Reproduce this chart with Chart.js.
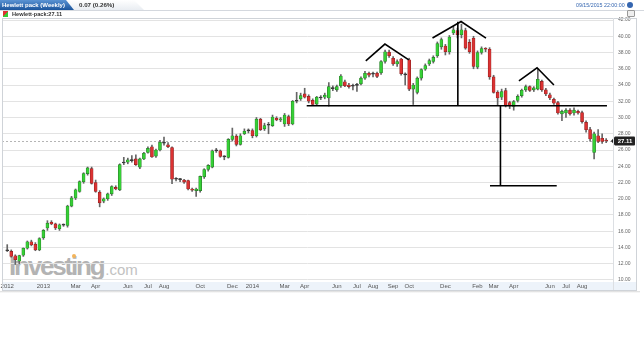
<!DOCTYPE html>
<html><head><meta charset="utf-8">
<script src="https://cdn.jsdelivr.net/npm/chart.js@4.4.1/dist/chart.umd.min.js"></script>
<style>
html,body{margin:0;padding:0;background:#fff;width:644px;height:362px;overflow:hidden;font-family:"Liberation Sans",Arial,sans-serif;}
#c{position:absolute;left:0;top:0;z-index:1;}
.abs{position:absolute;white-space:nowrap;}
#tab{left:0;top:0;width:74px;height:10px;background:linear-gradient(#5a93d3,#1c559c);clip-path:polygon(0 0,66px 0,74px 10px,0 10px);z-index:3;}
#tabtxt{left:2px;top:0;font-size:6px;line-height:10px;font-weight:bold;color:#fff;z-index:4;}
#tab2{left:60px;top:0;width:84px;height:10px;background:linear-gradient(#ffffff,#e9edf2);clip-path:polygon(0 0,74px 0,84px 10px,0 10px);z-index:2;}
#chg{left:79px;top:0;font-size:6.2px;line-height:10px;font-weight:bold;color:#333;z-index:4;}
#topline{left:0;top:10px;width:644px;height:0;border-top:1px solid #d4d8de;z-index:2;}
#date{left:576px;top:1px;font-size:5.3px;line-height:8px;color:#3566b0;z-index:4;}
#dot{left:627px;top:2px;width:6px;height:6px;border-radius:50%;background:#3566b0;z-index:4;}
#mini{left:627px;top:10px;width:6px;height:5px;border:1px solid #999;border-radius:1px;background:#eee;z-index:4;}
#icon{left:3px;top:11px;width:5px;height:6px;background:linear-gradient(135deg,#d33 50%,#3c3 50%);z-index:4;}
#name{left:12px;top:10px;font-size:5.6px;line-height:8px;font-weight:bold;color:#333;z-index:4;}
#frame{left:2px;top:18px;width:633px;height:271px;border:1px solid #cfd3d8;z-index:2;pointer-events:none;}
#sep{left:613px;top:18px;width:0;height:272px;border-left:1px solid #dcdfe3;z-index:2;}
#band{left:2px;top:282px;width:634px;height:8px;background:#edf3fa;z-index:0;}
#shadow{left:0;top:291px;width:640px;height:2px;background:linear-gradient(#d9d9d9,#fff);z-index:0;}
#wm{left:9px;top:253px;font-size:26px;line-height:26px;z-index:0;}
#wm .a{font-weight:bold;color:#b3b3b3;letter-spacing:-2.2px;}
#wm .b{font-size:15px;color:#c2c2c2;letter-spacing:0;margin-left:2px;}
#odot{left:72px;top:254px;width:4px;height:4px;border-radius:50%;background:#f3b45a;z-index:0;}
</style></head>
<body>
<div id="tab2" class="abs"></div>
<div id="tab" class="abs"></div>
<div id="tabtxt" class="abs">Hewlett pack (Weekly)</div>
<div id="chg" class="abs">0.07 (0.26%)</div>
<div id="topline" class="abs"></div>
<div id="date" class="abs">09/15/2015 22:00:00</div>
<div id="dot" class="abs"></div>
<div id="mini" class="abs"></div>
<div id="icon" class="abs"></div>
<div id="name" class="abs">Hewlett-pack:27.11</div>
<div id="band" class="abs"></div>
<div id="shadow" class="abs"></div>
<div id="wm" class="abs"><span class="a">Investing</span><span class="b">.com</span></div>
<div id="odot" class="abs"></div>
<canvas id="c" width="644" height="362"></canvas>
<div id="frame" class="abs"></div>
<div id="sep" class="abs"></div>
<script>
// Weekly OHLC, Nov 2012 .. Sep 2015
const opens = [13.65,13.52,12.98,12.3,13.05,13.9,14.7,14.4,13.7,15.2,16.4,17.1,16.9,16.3,16.8,16.7,19.1,20.1,20.9,22.1,
23.1,23.7,22.0,20.8,19.7,20.0,20.6,21.4,21.1,24.4,24.5,24.7,24.9,23.9,24.9,25.7,26.4,25.25,26.0,26.9,
26.65,26.3,22.4,22.4,22.3,22.25,21.2,21.0,21.0,22.7,23.6,23.9,25.9,25.9,25.2,25.1,27.3,27.7,26.7,28.0,
28.4,28.4,27.75,29.8,28.6,29.1,29.0,29.9,29.7,29.2,30.1,29.2,32.0,32.3,32.9,32.6,32.1,31.65,32.4,32.5,
32.4,33.6,33.4,33.9,34.4,34.0,33.9,33.95,34.15,34.85,35.45,35.35,35.45,35.5,36.9,38.05,37.3,36.6,37.2,35.3,
37.1,33.5,33.1,34.85,35.95,36.6,36.9,37.6,38.7,38.8,38.1,40.4,40.7,40.2,40.7,39.25,39.75,36.2,38.0,38.5,
38.4,35.0,33.1,32.5,33.3,31.85,31.35,32.1,32.7,33.4,33.8,33.4,33.5,34.45,33.4,32.8,32.25,31.85,30.45,30.55,
30.9,30.55,30.75,30.6,29.4,28.5,25.7,27.75,27.45,27.18];
const highs = [14.35,13.7,13.1,13.05,13.95,14.8,14.9,14.6,15.2,16.2,17.3,17.3,17.0,16.9,16.9,19.2,20.3,21.2,22.2,23.2,
23.9,23.9,22.3,21.0,20.1,20.7,21.6,21.6,24.3,25.1,25.0,25.3,25.4,25.0,25.7,26.4,26.6,26.1,27.2,27.6,
26.9,26.4,22.6,22.5,22.4,22.3,21.3,21.3,22.8,23.7,24.2,26.0,26.2,26.0,25.3,27.4,28.7,27.9,28.0,28.6,
28.6,28.6,30.0,29.9,29.3,29.4,30.3,30.1,30.0,30.5,30.3,32.1,33.1,33.0,33.6,32.8,32.3,32.6,32.7,33.0,
34.3,33.9,34.0,35.3,34.6,34.2,34.1,34.2,35.0,35.7,35.6,35.6,35.6,37.0,38.3,38.3,37.5,37.1,37.3,35.5,
37.3,34.2,35.0,36.0,36.6,37.2,37.6,39.3,39.8,39.0,40.1,41.2,41.0,41.5,41.0,39.6,40.0,38.2,38.7,38.6,
38.6,35.2,33.3,33.5,33.6,32.0,32.1,32.8,33.5,34.0,33.9,33.8,36.0,34.6,33.6,33.0,32.4,32.0,30.9,31.1,
31.1,31.2,30.9,30.8,29.6,28.8,28.2,28.5,28.0,27.4];
const lows = [13.5,12.8,11.9,12.0,12.9,13.8,14.2,13.6,13.6,15.0,16.1,16.8,16.2,16.1,16.6,16.5,19.0,19.9,20.8,21.9,
22.9,21.8,20.8,19.0,19.5,19.8,20.4,21.1,21.0,24.2,24.3,24.5,24.1,23.7,24.8,25.6,25.1,25.1,25.9,26.6,
26.3,21.85,22.2,22.1,21.9,21.1,20.9,20.3,20.8,22.5,23.4,23.8,25.7,25.1,24.8,25.0,27.1,26.5,26.6,27.9,
28.1,27.5,27.6,28.4,28.4,28.0,28.9,29.6,29.5,28.9,29.0,29.1,31.8,32.1,32.4,31.8,31.5,31.5,32.2,32.3,
31.4,33.3,33.2,33.7,33.8,33.6,33.4,33.2,34.0,34.7,35.0,35.0,34.9,35.3,36.7,37.4,36.4,36.3,35.2,34.0,
33.3,31.6,32.9,34.6,35.8,36.4,36.7,37.4,38.4,37.7,37.8,40.2,39.8,39.8,38.4,37.9,36.0,36.0,37.8,38.1,
34.7,33.0,31.5,32.2,31.3,31.1,30.9,31.9,32.5,33.2,33.2,33.2,33.4,33.2,32.7,32.2,31.6,30.4,29.6,30.0,
30.3,30.3,30.4,29.3,28.2,27.1,24.9,26.9,26.8,26.9];
const closes = [13.6,12.9,12.5,13.0,13.9,14.7,14.3,13.7,15.1,16.1,17.0,16.9,16.4,16.8,16.75,19.1,20.1,21.1,22.1,23.1,
23.8,21.9,20.9,19.5,20.0,20.6,21.5,21.2,24.2,24.45,24.8,24.75,24.2,24.9,25.6,26.2,25.15,26.0,26.95,26.85,
26.4,22.4,22.4,22.35,22.05,21.2,21.05,21.2,22.75,23.6,24.1,25.9,25.95,25.2,25.15,27.3,27.75,26.7,27.75,28.3,
28.35,27.75,29.8,28.5,29.0,29.05,30.05,29.7,29.85,30.3,29.2,32.0,32.05,32.7,32.5,32.0,31.6,32.5,32.45,32.75,
33.8,33.55,33.8,35.1,33.9,33.8,33.85,34.0,34.85,35.45,35.2,35.4,35.05,36.9,38.1,37.6,36.6,36.9,35.4,35.25,
33.5,34.0,34.85,35.9,36.4,37.0,37.4,39.1,39.6,38.1,39.9,40.8,40.2,40.8,38.55,38.1,36.3,38.0,38.5,38.4,
35.0,33.1,32.4,33.2,31.45,31.45,31.95,32.6,33.35,33.8,33.35,33.65,34.7,33.4,32.9,32.4,31.75,30.55,30.75,30.9,
30.45,30.9,30.55,29.5,28.5,27.35,28.0,27.05,27.05,27.11];

const xTickIdx  = [0,9,17,22,30,35,39,48,56,61,69,74,82,87,91,96,100,109,117,121,126,135,139,143];
const xTickText = ["2012","2013","Mar","Apr","Jun","Jul","Aug","Oct","Dec","2014","Mar","Apr","Jun","Jul","Aug","Sep","Oct","Dec","Feb","Mar","Apr","Jun","Jul","Aug"];
const yTicks = [10,12,14,16,18,20,22,24,26,28,30,32,34,36,38,40,42];
const lastPrice = 27.11;

// hand-drawn head & shoulders annotation, in (week index, price)
const leftShoulder  = [[89.2,36.98],[93.96,39.04],[99.9,37.1]];
const headLine      = [[105.8,39.78],[112.9,41.82],[119.1,39.78]];
const rightShoulder = [[127.3,34.52],[131.8,36.12],[136.0,34.0]];
const neckline      = [[74.5,31.45],[149.2,31.45]];
const headDrop      = [[112.1,41.8],[112.1,31.45]];
const targetDrop    = [[122.7,31.45],[122.7,21.6]];
const targetBase    = [[120.1,21.6],[136.7,21.6]];

const n = closes.length;
const wickData = [], bodyData = [], bodyCol = [], bodyBorder = [];
for (let i = 0; i < n; i++) {
  wickData.push({x:i, y:[lows[i], highs[i]]});
  bodyData.push({x:i, y:[opens[i], closes[i]]});
  const d = closes[i] - opens[i];
  if (Math.abs(d) < 0.06) { bodyCol.push('#333'); bodyBorder.push('#333'); }
  else if (d > 0) { bodyCol.push('#35d035'); bodyBorder.push('#2a7a2a'); }
  else { bodyCol.push('#dc3232'); bodyBorder.push('#8a2020'); }
}
const lineDs = (pts) => ({type:'line', data: pts.map(p=>({x:p[0], y:p[1]})), borderColor:'#000', borderWidth:1.6,
  pointRadius:0, fill:false, tension:0, order:0});

const pricePlugin = {
  id:'price',
  beforeDatasetsDraw(chart){
    const {ctx, chartArea:a, scales:{y}} = chart;
    const py = Math.round(y.getPixelForValue(lastPrice)) + 0.5;
    ctx.save(); ctx.strokeStyle='#b5b5b5'; ctx.lineWidth=1; ctx.setLineDash([2,2]);
    ctx.beginPath(); ctx.moveTo(a.left, py); ctx.lineTo(a.right, py); ctx.stroke(); ctx.restore();
  },
  afterDraw(chart){
    const {ctx, chartArea:a, scales:{y}} = chart;
    const py = Math.round(y.getPixelForValue(lastPrice));
    const l = a.right - 2, r = a.right + 22, h = 4.5;
    ctx.save(); ctx.fillStyle='#222';
    ctx.beginPath(); ctx.moveTo(l, py); ctx.lineTo(l+4, py-h); ctx.lineTo(r-1, py-h);
    ctx.quadraticCurveTo(r, py-h, r, py-h+1); ctx.lineTo(r, py+h-1); ctx.quadraticCurveTo(r, py+h, r-1, py+h);
    ctx.lineTo(l+4, py+h); ctx.closePath(); ctx.fill();
    ctx.fillStyle='#fff'; ctx.font='bold 6px "Liberation Sans", Arial'; ctx.textAlign='center'; ctx.textBaseline='middle';
    ctx.fillText(lastPrice.toFixed(2), (l+4+r)/2, py+0.5);
    ctx.restore();
  }
};

new Chart(document.getElementById('c'), {
  type:'bar',
  data:{ datasets:[
    {data:wickData, backgroundColor:'#666', barThickness:1, grouped:false, order:3},
    {data:bodyData, backgroundColor:bodyCol, borderColor:bodyBorder, borderWidth:0.6, borderSkipped:false,
      barThickness:3, grouped:false, minBarLength:1, order:2},
    lineDs(leftShoulder), lineDs(headLine), lineDs(rightShoulder), lineDs(neckline),
    lineDs(headDrop), lineDs(targetDrop), lineDs(targetBase)
  ]},
  options:{
    responsive:false, animation:false, devicePixelRatio:1,
    layout:{padding:{left:2, top:18, right:8, bottom:72}, autoPadding:false},
    plugins:{legend:{display:false}, tooltip:{enabled:false}},
    scales:{
      x:{type:'linear', offset:false, min:-1.3, max:150.7, grid:{display:false, drawTicks:false, offset:false}, border:{display:false},
        afterBuildTicks(s){ s.ticks = xTickIdx.map(v=>({value:v})); },
        afterFit(s){ s.height = 8; s.paddingLeft = 0; s.paddingRight = 0; },
        ticks:{autoSkip:false, maxRotation:0, padding:1, color:'#555', font:{size:6, family:'"Liberation Sans", Arial'},
          callback(v){ const k = xTickIdx.indexOf(v); return k >= 0 ? xTickText[k] : ''; }}},
      y:{type:'linear', position:'right', min:9.75, max:42.25,
        grid:{color:'#e3e3e3', drawTicks:false}, border:{display:false},
        afterBuildTicks(s){ s.ticks = yTicks.map(v=>({value:v})); },
        afterFit(s){ s.width = 23; },
        ticks:{padding:5, color:'#666', font:{size:5, family:'"Liberation Sans", Arial'},
          callback(v){ return v.toFixed(2); }}}
    }
  },
  plugins:[pricePlugin]
});
</script>
</body></html>
